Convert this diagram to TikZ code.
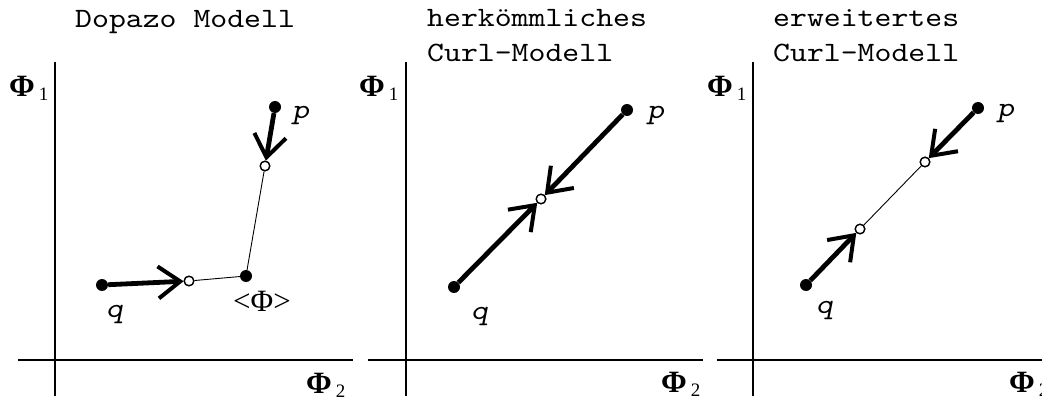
\documentclass[tikz,border=0pt]{standalone}
\usepackage{fontspec}
\setmainfont{Liberation Serif}
\setmonofont{lmmono10-regular.otf}[FakeStretch=1.15]
\newfontfamily\oblmono{lmmono10-regular.otf}[FakeStretch=1.15,FakeSlant=0.2]
\usetikzlibrary{arrows.meta}
\newcommand{\phisub}[1]{\textbf{Φ}\hspace{4pt}\raisebox{-4pt}{\fontsize{19}{19}\selectfont #1}}
\begin{document}
\begin{tikzpicture}[x=1pt,y=-1pt,
 axis/.style={line width=2pt},
 dot/.style={circle,fill=black,inner sep=0pt,minimum size=12pt},
 odot/.style={circle,draw=black,fill=white,line width=1.3pt,inner sep=0pt,minimum size=9.5pt},
 bigarrow/.style={line width=4.8pt,-{Straight Barb[length=22pt,width=32pt,line width=4pt]}},
 thinline/.style={line width=0.9pt},
 title/.style={font=\fontsize{28}{33}\selectfont\ttfamily, anchor=base west, inner sep=0pt},
 ptlabel/.style={font=\fontsize{28}{28}\selectfont\oblmono, anchor=base west, inner sep=0pt},
 philabel/.style={font=\fontsize{31}{31}\selectfont, anchor=base west, inner sep=0pt}
]
\useasboundingbox (0,0) rectangle (1042,401);

% axes
\coordinate (v1a) at (55,62); \coordinate (v1b) at (55,396);
\coordinate (h1a) at (18,360); \coordinate (h1b) at (353,360);
\coordinate (v2a) at (406,62); \coordinate (v2b) at (406,396);
\coordinate (h2a) at (368,360); \coordinate (h2b) at (703,360);
\coordinate (v3a) at (753,62); \coordinate (v3b) at (753,396);
\coordinate (h3a) at (717,360); \coordinate (h3b) at (1042,360);
\draw[axis] (v1a) -- (v1b); \draw[axis] (h1a) -- (h1b);
\draw[axis] (v2a) -- (v2b); \draw[axis] (h2a) -- (h2b);
\draw[axis] (v3a) -- (v3b); \draw[axis] (h3a) -- (h3b);

% axis labels
\node[philabel] (y1) at (9,97) {\phisub{1}};
\node[philabel] (x1) at (306,393) {\phisub{2}};
\node[philabel] (y2) at (359,97) {\phisub{1}};
\node[philabel] (x2) at (661,392) {\phisub{2}};
\node[philabel] (y3) at (707,97) {\phisub{1}};
\node[philabel] (x3) at (1009,392) {\phisub{2}};

% titles
\node[title] (t1) at (75,28) {Dopazo Modell};
\node[title] (t2a) at (427,27) {herkömmliches};
\node[title] (t2b) at (427,62) {Curl-Modell};
\node[title] (t3a) at (773,27) {erweitertes};
\node[title] (t3b) at (773,62) {Curl-Modell};

% panel 1
\node[dot] (p1) at (275,107) {};
\node[dot] (q1) at (102,285) {};
\node[dot] (m1) at (246,276) {};
\node[odot] (a1) at (265,166) {};
\node[odot] (b1) at (189,281) {};
\draw[thinline] (a1) -- (m1) -- (b1);
\draw[bigarrow] (p1) -- (a1);
\draw[bigarrow] (q1) -- (b1);
\node[odot] at (a1) {};
\node[odot] at (b1) {};
\node[ptlabel] (lp1) at (292,119) {p};
\node[ptlabel] (lq1) at (106,317) {q};
\node[font=\fontsize{31}{31}\selectfont, inner sep=0pt] (lm1) at (262,301) {<Φ>};

% panel 2
\node[dot] (p2) at (627,110) {};
\node[dot] (q2) at (454,287) {};
\node[odot] (c2) at (541,199) {};
\draw[bigarrow] (p2) -- (c2);
\draw[bigarrow] (q2) -- (c2);
\node[odot] at (c2) {};
\node[ptlabel] (lp2) at (647,119) {p};
\node[ptlabel] (lq2) at (471,319) {q};

% panel 3
\node[dot] (p3) at (978,108) {};
\node[dot] (q3) at (806,285) {};
\node[odot] (a3) at (925,162) {};
\node[odot] (b3) at (860,229) {};
\draw[thinline] (a3) -- (b3);
\draw[bigarrow] (p3) -- (a3);
\draw[bigarrow] (q3) -- (b3);
\node[odot] at (a3) {};
\node[odot] at (b3) {};
\node[ptlabel] (lp3) at (997,117) {p};
\node[ptlabel] (lq3) at (816,313) {q};
\end{tikzpicture}
\end{document}
